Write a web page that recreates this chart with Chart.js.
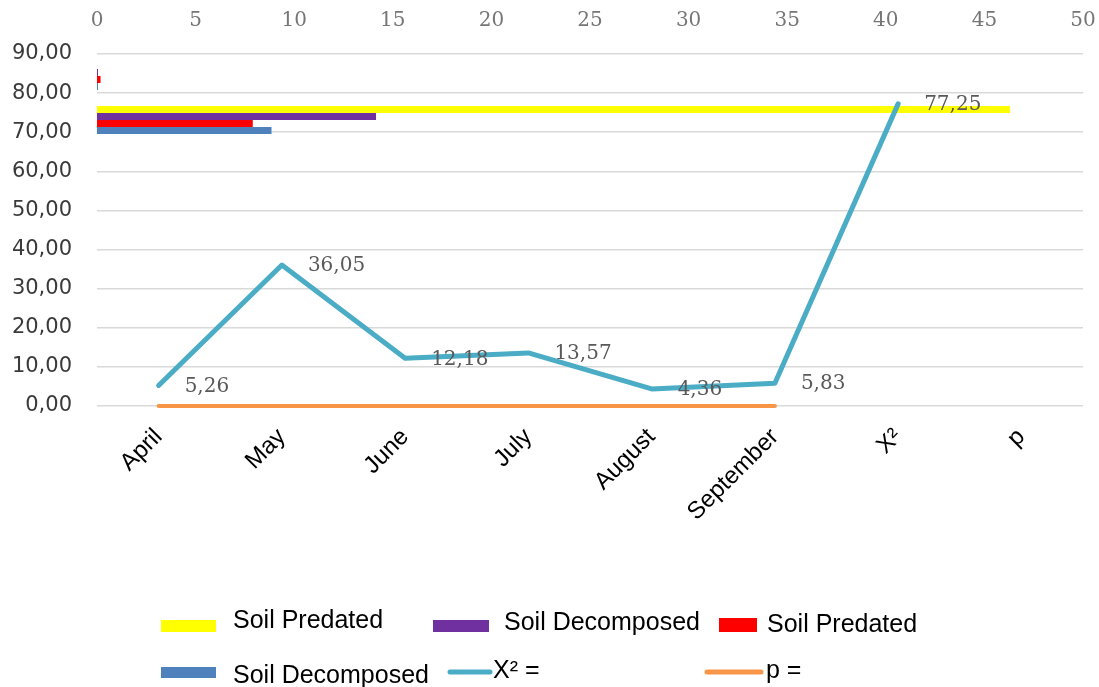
<!DOCTYPE html>
<html>
<head>
<meta charset="utf-8">
<script src="https://cdn.jsdelivr.net/npm/chart.js@4.4.1/dist/chart.umd.min.js"></script>
<style>
  html, body { margin: 0; padding: 0; background: #ffffff; }
  #wrap { position: relative; width: 1099px; height: 687px; }
</style>
</head>
<body>
<div id="wrap"><canvas id="chart" width="1099" height="687"></canvas></div>
<script>
// Categories shared by the line series (bottom axis) and the bar rows (hidden side axis)
const categories = ['April', 'May', 'June', 'July', 'August', 'September', 'X²', 'p'];

// Line series
const chiSquare = [5.26, 36.05, 12.18, 13.57, 4.36, 5.83, 77.25, null];
const pValue = [0, 0, 0, 0, 0, 0, null, null];

// Horizontal bar series: only the X² and p rows hold values
const soilPredated1 = [null, null, null, null, null, null, 46.3, 0];
const soilDecomposed1 = [null, null, null, null, null, null, 14.15, 0.05];
const soilPredated2 = [null, null, null, null, null, null, 7.9, 0.18];
const soilDecomposed2 = [null, null, null, null, null, null, 8.85, 0.05];

// Tick values
const leftTicks = [0, 10, 20, 30, 40, 50, 60, 70, 80, 90];
const topTicks = [0, 5, 10, 15, 20, 25, 30, 35, 40, 45, 50];

const fmtComma = v => v.toFixed(2).replace('.', ',');

// Horizontal bars grouped only among themselves, even though the line
// series sit on a different horizontal axis.
class SideBarController extends Chart.BarController {
  _calculateBarIndexPixels(index, ruler) {
    const opts = this.options;
    const stackCount = ruler.stackCount;
    const groupSize = ruler.min * opts.categoryPercentage;
    const chunk = groupSize / stackCount;
    const stackIndex = this._getStackIndex(this.index, this._cachedMeta.stack);
    const center = ruler.pixels[index] - groupSize / 2 + chunk * stackIndex + chunk / 2;
    const size = chunk * opts.barPercentage;
    return { base: center - size / 2, head: center + size / 2, center, size };
  }
}
SideBarController.id = 'sideBar';
SideBarController.defaults = Chart.BarController.defaults;
SideBarController.overrides = Chart.BarController.overrides;
Chart.register(SideBarController);

// Value labels to the right of each X² point
const pointLabels = {
  id: 'pointLabels',
  afterDatasetsDraw(chart) {
    const ctx = chart.ctx;
    chart.data.datasets.forEach((ds, i) => {
      if (!ds.showValues) return;
      const meta = chart.getDatasetMeta(i);
      ctx.save();
      ctx.font = '20px "DejaVu Serif"';
      ctx.fillStyle = '#595959';
      ctx.textAlign = 'left';
      ctx.textBaseline = 'middle';
      meta.data.forEach((pt, j) => {
        const v = ds.data[j];
        if (v === null || v === undefined) return;
        ctx.fillText(fmtComma(v), pt.x + 26, pt.y + 1);
      });
      ctx.restore();
    });
  }
};

// Legend laid out in two rows beneath the plot
const legendSpots = [
  { swatch: [161, 620, 55, 12], text: [233, 628] },
  { swatch: [433, 620, 56, 12], text: [504, 630] },
  { swatch: [719, 618, 38, 14], text: [767, 632] },
  { swatch: [161, 667, 55, 11], text: [233, 683] },
  { line: [450, 490, 672], text: [493, 678] },
  { line: [707, 761, 672], text: [766, 678] }
];
const legendLabels = ['Soil Predated', 'Soil Decomposed', 'Soil Predated', 'Soil Decomposed', 'X² =', 'p ='];

const bottomLegend = {
  id: 'bottomLegend',
  afterDraw(chart) {
    const ctx = chart.ctx;
    ctx.save();
    chart.data.datasets.forEach((ds, i) => {
      const spot = legendSpots[i];
      if (spot.swatch) {
        ctx.fillStyle = ds.backgroundColor;
        ctx.fillRect(spot.swatch[0], spot.swatch[1], spot.swatch[2], spot.swatch[3]);
      } else {
        ctx.strokeStyle = ds.borderColor;
        ctx.lineWidth = 5;
        ctx.lineCap = 'round';
        ctx.beginPath();
        ctx.moveTo(spot.line[0], spot.line[2]);
        ctx.lineTo(spot.line[1], spot.line[2]);
        ctx.stroke();
      }
      ctx.fillStyle = '#000000';
      ctx.font = '25px "Liberation Sans"';
      ctx.textAlign = 'left';
      ctx.textBaseline = 'alphabetic';
      ctx.fillText(legendLabels[i], spot.text[0], spot.text[1]);
    });
    ctx.restore();
  }
};

const barCommon = {
  type: 'sideBar',
  indexAxis: 'y',
  xAxisID: 'xTop',
  yAxisID: 'yBar',
  barPercentage: 1,
  categoryPercentage: 0.64,
  borderWidth: 0,
  order: 2
};

const noSidePadding = scale => { scale.paddingLeft = 0; scale.paddingRight = 0; };

new Chart(document.getElementById('chart'), {
  data: {
    labels: categories,
    datasets: [
      Object.assign({ label: 'Soil Predated', data: soilPredated1, backgroundColor: '#FFFF00', stack: 'g1' }, barCommon),
      Object.assign({ label: 'Soil Decomposed', data: soilDecomposed1, backgroundColor: '#7030A0', stack: 'g2' }, barCommon),
      Object.assign({ label: 'Soil Predated', data: soilPredated2, backgroundColor: '#FF0000', stack: 'g3' }, barCommon),
      Object.assign({ label: 'Soil Decomposed', data: soilDecomposed2, backgroundColor: '#4F81BD', stack: 'g4' }, barCommon),
      {
        type: 'line', label: 'X² =', data: chiSquare, showValues: true,
        xAxisID: 'x', yAxisID: 'y',
        borderColor: '#4BACC6', backgroundColor: '#4BACC6', borderWidth: 5,
        pointRadius: 0, tension: 0, spanGaps: false, clip: false,
        borderCapStyle: 'round', borderJoinStyle: 'round', order: 0
      },
      {
        type: 'line', label: 'p =', data: pValue,
        xAxisID: 'x', yAxisID: 'y',
        borderColor: '#F79646', backgroundColor: '#F79646', borderWidth: 4,
        pointRadius: 0, tension: 0, spanGaps: false, clip: false,
        borderCapStyle: 'round', order: 1
      }
    ]
  },
  options: {
    responsive: false,
    animation: false,
    devicePixelRatio: 1,
    layout: { padding: { left: 0, right: 16, top: 0, bottom: 0 } },
    plugins: {
      legend: { display: false },
      tooltip: { enabled: false }
    },
    scales: {
      x: {
        type: 'category',
        position: 'bottom',
        offset: true,
        grid: { display: false },
        border: { display: false },
        ticks: {
          autoSkip: false,
          minRotation: 45,
          maxRotation: 45,
          padding: 9,
          color: '#000000',
          font: { family: '"Liberation Sans"', size: 24 }
        },
        afterFit(scale) { scale.height = 281; noSidePadding(scale); }
      },
      y: {
        type: 'linear',
        position: 'left',
        min: 0,
        max: 90,
        afterBuildTicks(scale) { scale.ticks = leftTicks.map(v => ({ value: v })); },
        grid: { color: '#d9d9d9', lineWidth: 1.5, drawTicks: false },
        border: { display: false },
        ticks: {
          padding: 25,
          color: '#3a3a3a',
          font: { family: '"DejaVu Sans"', size: 21 },
          callback: v => fmtComma(v)
        },
        afterFit(scale) { scale.width = 97; }
      },
      xTop: {
        type: 'linear',
        position: 'top',
        min: 0,
        max: 50,
        afterBuildTicks(scale) { scale.ticks = topTicks.map(v => ({ value: v })); },
        grid: { display: false },
        border: { display: false },
        ticks: {
          padding: 13,
          color: '#767676',
          font: { family: '"DejaVu Serif"', size: 20 }
        },
        afterFit(scale) { scale.height = 54; noSidePadding(scale); }
      },
      yBar: {
        type: 'category',
        position: 'left',
        labels: categories,
        reverse: true,
        offset: true,
        display: false
      }
    }
  },
  plugins: [pointLabels, bottomLegend]
});
</script>
</body>
</html>
